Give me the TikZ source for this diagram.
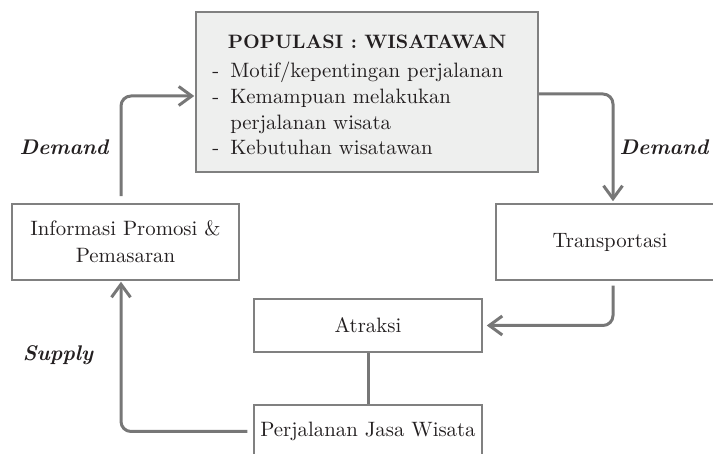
\documentclass[tikz,border=0pt]{standalone}
\usetikzlibrary{arrows.meta}
\definecolor{garisabu}{HTML}{808080}
\definecolor{panahabu}{HTML}{777777}
\definecolor{isiabu}{HTML}{EEEFEE}
\definecolor{tinta}{HTML}{231F20}
\begin{document}
\begin{tikzpicture}[x=0.5pt, y=-0.5pt,
    every node/.style={text=tinta, font=\fontsize{10.4}{13.5}\selectfont},
    kotak/.style={draw=garisabu, line width=0.75pt, minimum width=114pt, inner sep=0pt, align=center},
    alur/.style={draw=panahabu, line width=1.5pt, rounded corners=5pt, -{Straight Barb[length=6.5pt,width=9.5pt]}},
    garis/.style={draw=panahabu, line width=1.5pt},
    tulisan/.style={font=\fontsize{10.6}{13.5}\selectfont\bfseries\itshape}]

\path[use as bounding box, clip] (0,0) rectangle (713,454);

%%populasi box
\node[kotak, fill=isiabu, minimum width=171pt, minimum height=80pt] (populasi) at (367,92) {};
\node[anchor=base, font=\fontsize{9.7}{13.5}\selectfont\bfseries] (judul) at (367,49) {POPULASI : WISATAWAN};
\node[anchor=base west, inner sep=0pt] (daftar) at (212,78) {\renewcommand{\arraystretch}{0.95}%
  \begin{tabular}[t]{@{}l@{\hspace{5.5pt}}l@{}}
  - & Motif/kepentingan perjalanan\\
  - & Kemampuan melakukan\\
    & perjalanan wisata\\
  - & Kebutuhan wisatawan
  \end{tabular}};

%%other boxes
\node[kotak, minimum width=113.5pt, minimum height=38pt] (info) at (125.5,242) {Informasi Promosi \&\\Pemasaran};
\node[kotak, minimum height=38pt] (transport) at (610,242) {Transportasi};
\node[kotak, minimum height=26.5pt] (atraksi) at (368,325.5) {Atraksi};
\node[kotak, minimum height=26.5pt] (jasa) at (368,431.5) {Perjalanan Jasa Wisata};

%%arrows
\draw[alur] ([xshift=-2.25pt,yshift=3.5pt]info.north) |- ([xshift=-0.5pt,yshift=-2pt]populasi.west);
\draw[alur] ([yshift=-1pt]populasi.east) -| ([xshift=1.5pt,yshift=1pt]transport.north);
\draw[alur] ([xshift=1.5pt,yshift=-2.5pt]transport.south) |- ([xshift=2pt]atraksi.east);
\draw[garis] (atraksi) -- (jasa);
\draw[alur] ([xshift=-3pt]jasa.west) -| ([xshift=-2.25pt,yshift=-0.5pt]info.south);

%%labels
\node[tulisan] (permintaankiri) at (64,147) {Demand};
\node[tulisan] (permintaankanan) at (664,147) {Demand};
\node[tulisan] (penawaran) at (58,355) {Supply};

\end{tikzpicture}
\end{document}
